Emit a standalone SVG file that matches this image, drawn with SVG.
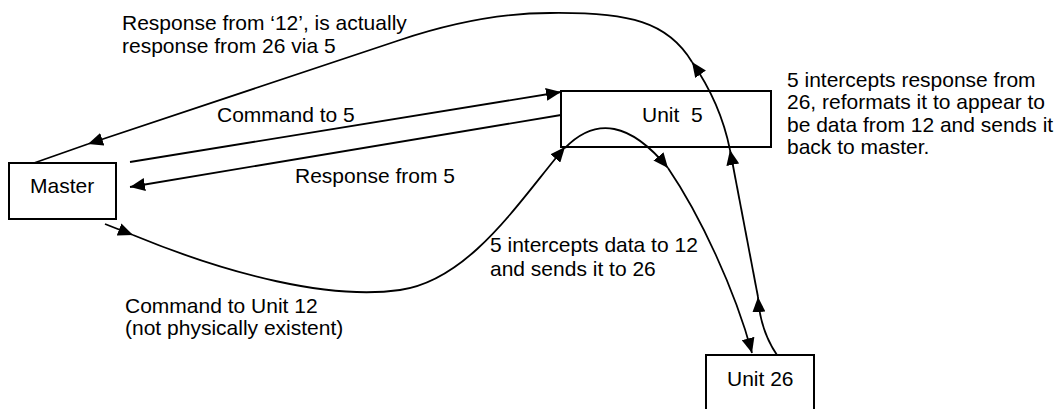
<svg xmlns="http://www.w3.org/2000/svg" width="1061" height="409" viewBox="0 0 1061 409">
<style>
.box{fill:#fff;stroke:#000;stroke-width:2}
.conn{fill:none;stroke:#000;stroke-width:1.8}
.arr{marker-end:url(#ah)}
text{font-family:"Liberation Sans",Arial,sans-serif;font-size:21px;fill:#000}
</style>
<defs>
<marker id="ah" markerUnits="userSpaceOnUse" markerWidth="16" markerHeight="13" refX="15" refY="6.5" orient="auto">
<path d="M0,0 L15,6.5 L0,13 z" fill="#000"/>
</marker>
</defs>
<rect width="1061" height="409" fill="#fff"/>
<g id="master"><rect class="box" x="9" y="163" width="107" height="56"/><text x="30" y="193">Master</text></g>
<g id="unit5"><rect class="box" x="561" y="91" width="210" height="56"/><text x="642" y="122" xml:space="preserve">Unit  5</text></g>
<g id="unit26"><rect class="box" x="706" y="355" width="108" height="80"/><text x="727" y="386">Unit 26</text></g>
<g id="connectors">
<path class="conn arr" d="M130,162 L561,92"/>
<path class="conn arr" d="M561,115 L130,187"/>
<path class="conn arr" d="M105,224 L133,235"/>
<path class="conn arr" d="M133,235 C230,275 330,300 400,290 C470,280 520,200 565,147"/>
<path class="conn arr" d="M565,148 Q612,100 668,168"/>
<path class="conn arr" d="M668,168 C700,215 735,290 752,353"/>
<path class="conn arr" d="M777,355 Q760,330 758,297"/>
<path class="conn arr" d="M758,297 L730,150"/>
<path class="conn arr" d="M730,150 C725,125 715,95 692,62"/>
<path class="conn arr" d="M692,62 C668,22 630,12 550,13 C510,13 460,20 400,40 L88,144"/>
<path class="conn" d="M88,144 L34,163"/>
</g>
<g id="labels">
<text x="122" y="30">Response from ‘12’, is actually</text>
<text x="122" y="53">response from 26 via 5</text>
<text x="217" y="122">Command to 5</text>
<text x="295" y="183">Response from 5</text>
<text x="787" y="87">5 intercepts response from</text>
<text x="787" y="109">26, reformats it to appear to</text>
<text x="787" y="132">be data from 12 and sends it</text>
<text x="787" y="154">back to master.</text>
<text x="490" y="252">5 intercepts data to 12</text>
<text x="490" y="276">and sends it to 26</text>
<text x="125" y="313">Command to Unit 12</text>
<text x="125" y="335">(not physically existent)</text>
</g>
</svg>
